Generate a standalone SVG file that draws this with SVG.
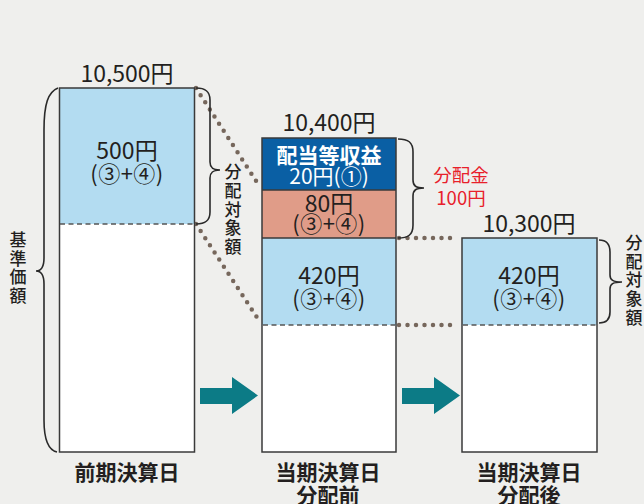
<svg xmlns="http://www.w3.org/2000/svg" width="644" height="504" viewBox="0 0 644 504">
<defs>
<style>
text{font-family:"Noto Sans CJK JP","Noto Sans",sans-serif;fill:#231f20;}
.num{font-size:23px;text-anchor:middle;}
.par{font-size:22px;text-anchor:middle;letter-spacing:0.5px;}
.lbl{font-size:21px;font-weight:bold;text-anchor:middle;}
.vt{font-size:17px;text-anchor:middle;font-weight:500;}
.red{fill:#e8202a;font-size:18.5px;text-anchor:middle;}
.wh{fill:#ffffff;font-size:21px;text-anchor:middle;font-weight:bold;}
.box{fill:none;stroke:#3a3a3a;stroke-width:1.5;}
.sep{stroke:#3a3a3a;stroke-width:1.5;}
.dash{stroke:#555;stroke-width:1.5;stroke-dasharray:5 3.5;}
.dot{stroke:#76675c;stroke-width:4.5;stroke-linecap:round;stroke-dasharray:0 8.5;fill:none;}
.brace{fill:none;stroke:#2a2a2a;stroke-width:1.6;}
.arr{fill:#0c7b86;}
</style>
</defs>
<rect width="644" height="504" fill="#efefed"/>

<g id="connectors">
<path class="dot" d="M196,88 L260,187"/>
<path class="dot" d="M196,224 L260,322"/>
<path class="dot" d="M399,238 L456,238"/>
<path class="dot" d="M399,325 L456,325"/>
<polygon class="arr" points="200,388 232,388 232,377 258,395.5 232,414 232,404 200,404"/>
<polygon class="arr" points="402,388 434,388 434,377 460,395.5 434,414 434,404 402,404"/>
</g>

<g id="box1">
<rect x="59.5" y="88" width="135" height="364" fill="#ffffff"/>
<rect x="59.5" y="88" width="135" height="136" fill="#b3dcf1"/>
<rect class="box" x="59.5" y="88" width="135" height="364"/>
<line class="dash" x1="60" y1="224" x2="194" y2="224"/>
<text class="num" x="127" y="82">10,500円</text>
<text class="num" x="127" y="159">500円</text>
<text class="par" x="127" y="182">(③+④)</text>
<text class="lbl" x="127" y="480">前期決算日</text>
</g>

<g id="brace-base">
<path class="brace" d="M58,88 C48,92 44,104 44,130 L44,258 C44,266 42,271 36,271 C42,271 44,276 44,284 L44,420 C44,440 48,450 57,452"/>
<text class="vt" x="18" y="246">基</text>
<text class="vt" x="18" y="264.5">準</text>
<text class="vt" x="18" y="283">価</text>
<text class="vt" x="18" y="301.5">額</text>
</g>

<g id="brace1">
<path class="brace" d="M196,88 C205,88 210,91 210,100 L210,162 C210,168 213,170 220,170 C213,170 210,172 210,178 L210,212 C210,221 205,224 196,224"/>
<text class="vt" x="233" y="178">分</text>
<text class="vt" x="233" y="197">配</text>
<text class="vt" x="233" y="216">対</text>
<text class="vt" x="233" y="234">象</text>
<text class="vt" x="233" y="253">額</text>
</g>

<g id="box2">
<rect x="262" y="138" width="134" height="314" fill="#ffffff"/>
<rect x="262" y="138" width="134" height="52" fill="#0a5fa4"/>
<rect x="262" y="190" width="134" height="48" fill="#e09c88"/>
<rect x="262" y="238" width="134" height="87" fill="#b3dcf1"/>
<rect class="box" x="262" y="138" width="134" height="314"/>
<line class="sep" x1="262" y1="190" x2="396" y2="190"/>
<line class="sep" x1="262" y1="238" x2="396" y2="238"/>
<line class="dash" x1="263" y1="325" x2="395" y2="325"/>
<text class="num" x="329" y="131">10,400円</text>
<text class="wh" x="329" y="163">配当等収益</text>
<text class="wh" x="329" y="184" style="font-weight:normal">20円(①)</text>
<text class="num" x="329" y="212">80円</text>
<text class="par" x="329" y="232">(③+④)</text>
<text class="num" x="329" y="284">420円</text>
<text class="par" x="329" y="307">(③+④)</text>
<text class="lbl" x="328" y="480">当期決算日</text>
<text class="lbl" x="328" y="503">分配前</text>
</g>

<g id="brace2">
<path class="brace" d="M398,139 C408,139 413,142 413,152 L413,180 C413,186 416,188 424,188 C416,188 413,190 413,196 L413,225 C413,235 408,238 398,238"/>
<text class="red" x="461" y="182">分配金</text>
<text class="red" x="461" y="205">100円</text>
</g>

<g id="box3">
<rect x="462" y="238" width="135" height="214" fill="#ffffff"/>
<rect x="462" y="238" width="135" height="87" fill="#b3dcf1"/>
<rect class="box" x="462" y="238" width="135" height="214"/>
<line class="dash" x1="463" y1="325" x2="596" y2="325"/>
<text class="num" x="529" y="232">10,300円</text>
<text class="num" x="529" y="284">420円</text>
<text class="par" x="529" y="307">(③+④)</text>
<text class="lbl" x="529" y="480">当期決算日</text>
<text class="lbl" x="529" y="503">分配後</text>
</g>

<g id="brace3">
<path class="brace" d="M599,240 C606,240 610,243 610,252 L610,275 C610,280 613,282 622,282 C613,282 610,284 610,289 L610,312 C610,320 606,323 599,323"/>
<text class="vt" x="634" y="249">分</text>
<text class="vt" x="634" y="268">配</text>
<text class="vt" x="634" y="286">対</text>
<text class="vt" x="634" y="305">象</text>
<text class="vt" x="634" y="324">額</text>
</g>
</svg>
